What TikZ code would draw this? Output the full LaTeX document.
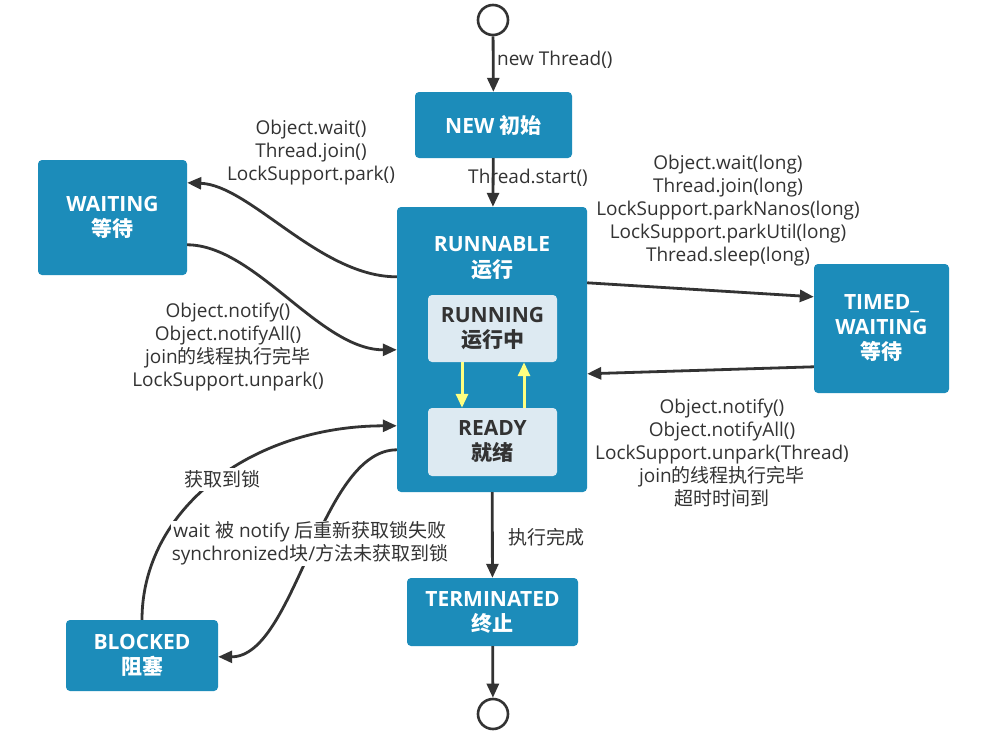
\documentclass[tikz,border=0pt]{standalone}
\usepackage{fontspec}
\setmainfont{Open Sans}
\newfontfamily\zh{Noto Sans CJK SC}
\usetikzlibrary{arrows.meta}
\definecolor{boxblue}{HTML}{1C8CBA}
\definecolor{innerbg}{HTML}{DDEAF2}
\definecolor{txt}{HTML}{333333}
\definecolor{yel}{HTML}{FFFF80}
\begin{document}
\begin{tikzpicture}[x=1pt,y=-1pt,
  state/.style={fill=boxblue,rounded corners=4pt,text=white,font=\fontsize{21}{25}\selectfont\bfseries,align=center,inner sep=0pt},
  inner/.style={fill=innerbg,rounded corners=4pt,text=txt,font=\fontsize{21}{25}\selectfont\bfseries,align=center,inner sep=0pt,minimum width=129pt,minimum height=67pt},
  lbl/.style={text=txt,font=\fontsize{19}{23}\selectfont,align=center,inner sep=1pt,yshift=-2.5pt},
  conn/.style={draw=txt,line width=2.8pt,-{Triangle[length=14pt,width=12pt]}},
  yconn/.style={draw=yel,line width=3pt,-{Triangle[length=14pt,width=12pt]}},
  term/.style={circle,draw=txt,line width=2.6pt,fill=white,minimum size=30pt,inner sep=0pt}]
\useasboundingbox (0,0) rectangle (997,744);
\fill[white] (0,0) rectangle (997,744);
% nodes
\node[term] (start) at (493,20) {};
\node[term] (end) at (493,714) {};
\node[state,minimum width=157pt,minimum height=66pt] (new) at (493.5,125) {NEW {\zh 初始}};
\node[state,minimum width=190pt,minimum height=285pt] (runnable) at (492,349.5) {};
\node[text=white,font=\fontsize{21}{26}\selectfont\bfseries,align=center] (runlbl) at (492,258.5) {RUNNABLE\\{\zh 运行}};
\node[inner] (running) at (492.5,328.5) {RUNNING\\{\zh 运行中}};
\node[inner,minimum height=68pt] (ready) at (492.5,442) {READY\\{\zh 就绪}};
\node[state,minimum width=149pt,minimum height=115pt] (waiting) at (112.5,217.5) {WAITING\\{\zh 等待}};
\node[state,minimum width=135pt,minimum height=129pt] (timed) at (881.5,328.5) {TIMED\_\\WAITING\\{\zh 等待}};
\node[state,minimum width=152pt,minimum height=71pt] (blocked) at (142,655.5) {BLOCKED\\{\zh 阻塞}};
\node[state,minimum width=171pt,minimum height=68pt] (terminated) at (492.5,612) {TERMINATED\\{\zh 终止}};
% connectors
\draw[conn] (start) -- (new);
\draw[conn] (new) -- (runnable);
\draw[conn] (runnable) -- (terminated);
\draw[conn] (terminated) -- (end);
\draw[yconn] ([xshift=-30.5pt]running.south) -- ([xshift=-30.5pt]ready.north);
\draw[yconn] ([xshift=31.5pt]ready.north) -- ([xshift=31.5pt]running.south);
\draw[conn] ([yshift=-70pt]runnable.north west) .. controls (320,277) and (250,185) .. ([yshift=-23pt]waiting.north east);
\draw[conn] ([yshift=-85pt]waiting.north east) .. controls (255,245) and (320,350) .. ([yshift=-143pt]runnable.north west);
\draw[conn] ([yshift=-76pt]runnable.north east) -- ([yshift=-33pt]timed.north west);
\draw[conn] ([yshift=-103pt]timed.north west) -- ([yshift=-167pt]runnable.north east);
\draw[conn] (blocked.north) .. controls (142,510) and (250,426) .. ([yshift=-219pt]runnable.north west);
\draw[conn] ([yshift=-243pt]runnable.north west) .. controls (320,450) and (295,657) .. ([yshift=-37pt]blocked.north east);
% labels
\node[lbl,anchor=west] (l1) at (496,57) {new Thread()};
\node[lbl] (l2) at (528,175) {Thread.start()};
\node[lbl] (l3) at (311,150) {Object.wait()\\Thread.join()\\LockSupport.park()};
\node[lbl] (l4) at (228,345) {Object.notify()\\Object.notifyAll()\\join{\zh 的线程执行完毕}\\LockSupport.unpark()};
\node[lbl] (l5) at (728,208) {Object.wait(long)\\Thread.join(long)\\LockSupport.parkNanos(long)\\LockSupport.parkUtil(long)\\Thread.sleep(long)};
\node[lbl] (l6) at (722,450) {Object.notify()\\Object.notifyAll()\\LockSupport.unpark(Thread)\\join{\zh 的线程执行完毕}\\{\zh 超时时间到}};
\node[lbl,fill=white,inner sep=3pt] (l7) at (222,477) {{\zh 获取到锁}};
\node[lbl,fill=white] (l8) at (310,541) {wait {\zh 被} notify {\zh 后重新获取锁失败}\\synchronized{\zh 块}/{\zh 方法未获取到锁}};
\node[lbl] (l9) at (546,535) {{\zh 执行完成}};
\end{tikzpicture}
\end{document}
